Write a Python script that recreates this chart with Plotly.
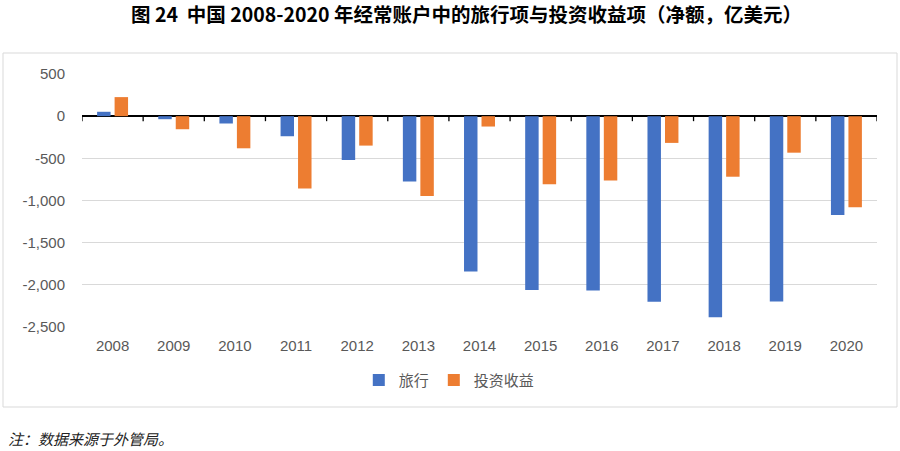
import plotly.graph_objects as go

years = ["2008", "2009", "2010", "2011", "2012", "2013", "2014",
         "2015", "2016", "2017", "2018", "2019", "2020"]
travel = [52, -36, -87, -238, -520, -774, -1841, -2060, -2067, -2202, -2385, -2198, -1171]
invest = [226, -155, -381, -857, -349, -948, -123, -806, -762, -317, -718, -433, -1079]
ytick_vals = [500, 0, -500, -1000, -1500, -2000, -2500]
ytick_text = ["500", "0", "-500", "-1,000", "-1,500", "-2,000", "-2,500"]
title_text = "图 24  中国 2008-2020 年经常账户中的旅行项与投资收益项（净额，亿美元）"
note_text = "注：数据来源于外管局。"

BLUE = "#4472C4"
ORANGE = "#ED7D31"
GRAY = "#595959"

n = len(years)
xpos = list(range(n))
boundaries = [i - 0.5 for i in range(n + 1)]
ymin, ymax = -2500, 500

fig = go.Figure()
fig.add_trace(go.Bar(name="旅行", x=xpos, y=travel, marker_color=BLUE, marker_line_width=0))
fig.add_trace(go.Bar(name="投资收益", x=xpos, y=invest, marker_color=ORANGE, marker_line_width=0))

# category boundary tick marks hanging below the zero line
tick_len_units = (ymax - ymin) * 5 / 253
fig.add_trace(go.Scatter(
    x=boundaries, y=[0] * len(boundaries), mode="markers",
    marker=dict(opacity=0, size=1), showlegend=False, hoverinfo="skip",
    error_y=dict(type="data", symmetric=False, array=[0] * len(boundaries),
                 arrayminus=[tick_len_units] * len(boundaries),
                 width=0, thickness=1.3, color="black")))

fig.update_layout(
    width=900, height=451,
    margin=dict(l=82, r=23, t=74, b=124, autoexpand=False),
    paper_bgcolor="white", plot_bgcolor="white",
    barmode="group", bargap=0.428, bargroupgap=0.23,
    showlegend=True,
    legend=dict(orientation="h", x=0.462, xanchor="center", y=-0.21, yanchor="middle",
                font=dict(family="Noto Sans CJK SC", size=15, color=GRAY),
                itemwidth=30, traceorder="normal"),
    font=dict(family="Noto Sans CJK SC", color=GRAY),
    xaxis=dict(range=[-0.5, n - 0.5], tickvals=xpos, ticktext=years,
               showline=False, ticks="", showgrid=False, zeroline=False,
               tickfont=dict(family="Liberation Sans, Arial", size=15, color=GRAY),
               ticklabelstandoff=8),
    yaxis=dict(range=[ymin, ymax], tickvals=ytick_vals, ticktext=ytick_text,
               showgrid=True, gridcolor="#D9D9D9", gridwidth=1,
               zeroline=True, zerolinecolor="black", zerolinewidth=1.5,
               showline=False, ticklabelstandoff=16,
               tickfont=dict(family="Liberation Sans, Arial", size=15, color=GRAY)),
    hovermode=False,
)

fig.add_shape(type="rect", xref="paper", yref="paper",
              x0=(3 - 82) / 795, x1=(897 - 82) / 795,
              y0=(327 - 407) / 253, y1=(327 - 53) / 253,
              line=dict(color="#D9D9D9", width=1), fillcolor="rgba(0,0,0,0)", layer="below")

fig.add_annotation(text="<b>" + title_text + "</b>", xref="paper", yref="paper",
                   x=(466 - 82) / 795, y=(327 - 13) / 253, xanchor="center", yanchor="middle",
                   showarrow=False, font=dict(family="Noto Sans CJK SC", size=19.5, color="black"))
fig.add_annotation(text="<i>" + note_text + "</i>", xref="paper", yref="paper",
                   x=(6 - 82) / 795, y=(327 - 438) / 253, xanchor="left", yanchor="middle",
                   showarrow=False, font=dict(family="Noto Sans CJK SC", size=15, color="#222222"))

fig.write_html("out.html", config={"displayModeBar": False},
               post_script="document.body.style.margin='0';")
